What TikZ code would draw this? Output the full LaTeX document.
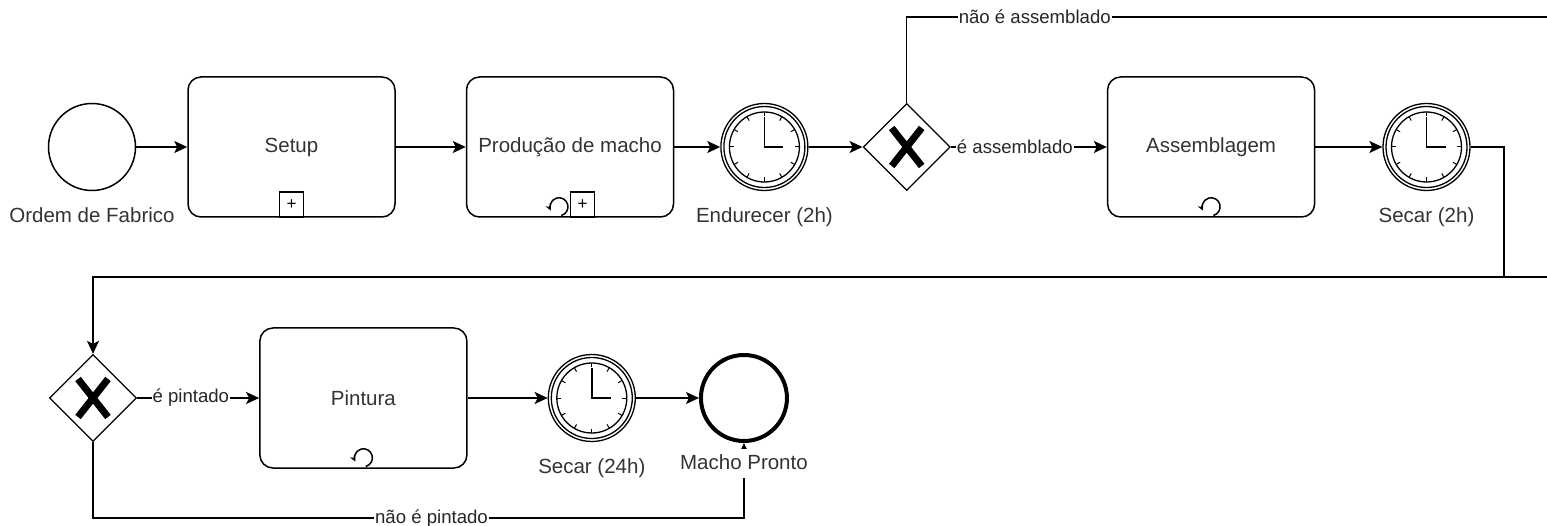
\documentclass[tikz,border=0pt]{standalone}
\usepackage{fontspec}
\setmainfont{Liberation Sans}
\usepackage{tikz}
\usetikzlibrary{shapes,arrows.meta,positioning}
\tikzstyle{Task} = [draw, rectangle, rounded corners=13pt, line width=1.5pt, minimum width=207pt, minimum height=140pt, text=black!80, font=\fontsize{20.5}{24}\selectfont]
\tikzstyle{Start} = [draw, circle, line width=1.5pt, minimum size=87pt, inner sep=0pt]
\tikzstyle{End} = [draw, circle, line width=4pt, minimum size=86pt, inner sep=0pt]
\tikzstyle{Timer} = [draw, circle, line width=1.3pt, minimum size=87pt, inner sep=0pt, path picture={
    \coordinate (clk) at (path picture bounding box.center);
    \draw[line width=1.3pt] (clk) circle (40.5pt);
    \draw[line width=1.3pt] (clk) circle (35pt);
    \foreach \a in {0,30,...,330}
      \draw[line width=1pt] (clk) ++(\a:30.5pt) -- ++(\a:4.5pt);
    \draw[line width=1.6pt] ([yshift=30pt]clk) -- (clk) -- ([xshift=19pt]clk);
  }]
\tikzstyle{Gateway} = [draw, diamond, line width=1.3pt, minimum width=87pt, minimum height=87pt, inner sep=0pt, path picture={
    \coordinate (gx) at (path picture bounding box.center);
    \draw[line width=7pt] ([shift={(-15pt,-19pt)}]gx) -- ([shift={(15pt,19pt)}]gx);
    \draw[line width=7pt] ([shift={(-15pt,19pt)}]gx) -- ([shift={(15pt,-19pt)}]gx);
  }]
\tikzstyle{Marker} = [draw, rectangle, fill=white, line width=1.3pt, minimum width=24pt, minimum height=25pt, inner sep=0pt, font=\fontsize{17}{17}\selectfont]
\tikzstyle{EventText} = [inner sep=0pt, text height=15pt, text depth=4pt, text=black!80, font=\fontsize{20.5}{24}\selectfont]
\tikzstyle{EdgeText} = [fill=white, inner sep=1pt, text=black!85, font=\fontsize{18.6}{22}\selectfont]
\tikzstyle{Flow} = [line width=1.5pt, -{Stealth[length=13pt, width=12pt, inset=3pt]}]
\tikzstyle{Line} = [line width=1.5pt]
\newcommand{\loopmark}[1]{\draw[line width=1.5pt, -{Stealth[length=6pt, width=6pt]}] #1 ++(-75:9pt) arc[start angle=-75, end angle=205, radius=9pt];}

\begin{document}
\begin{tikzpicture}[x=1pt, y=1pt]
    \useasboundingbox (0,0) rectangle (1547,-526);

    \node[Start] (ordem) at (92,-147)            {};
    \node[Task] (setup) [right=51pt of ordem]     {Setup};
    \node[Task] (producao) [right=70pt of setup]  {Produção de macho};
    \node[Timer] (endurecer) [right=46pt of producao] {};
    \node[Gateway] (gw1) [right=54pt of endurecer] {};
    \node[Task] (assembl) [right=156pt of gw1]   {Assemblagem};
    \node[Timer] (secar2) [right=67pt of assembl] {};

    \node[Gateway] (gw2) at (93,-398)            {};
    \node[Task] (pintura) [right=122pt of gw2]   {Pintura};
    \node[Timer] (secar24) [right=80pt of pintura] {};
    \node[End] (pronto) [right=63pt of secar24]  {};

    \node[EventText] (ordemlbl) [below=16pt of ordem]         {Ordem de Fabrico};
    \node[EventText] (endurecerlbl) [below=16pt of endurecer] {Endurecer (2h)};
    \node[EventText] (secar2lbl) [below=16pt of secar2]       {Secar (2h)};
    \node[EventText] (secar24lbl) [below=16pt of secar24]     {Secar (24h)};

    \node[Marker] (setupmk) [above=0pt of setup.south]                  {+};
    \node[Marker] (producaomk) [above right=0pt and 0pt of producao.south] {+};
    \loopmark{([xshift=-11pt, yshift=11pt]producao.south)}
    \loopmark{([yshift=11pt]assembl.south)}
    \loopmark{([yshift=11pt]pintura.south)}

    \coordinate (saida1) at (1547,-17);
    \coordinate (saida2) at (1547,-277);
    \coordinate (desce) at (1504,-277);

    \draw[Flow] (ordem)     to (setup);
    \draw[Flow] (setup)     to (producao);
    \draw[Flow] (producao)  to (endurecer);
    \draw[Flow] (endurecer) to (gw1);
    \draw[Flow] (gw1) -- node[EdgeText, pos=0.41] {é assemblado} (assembl);
    \draw[Line] (gw1) |- node[EdgeText, pos=0.6] {não é assemblado} (saida1);
    \draw[Flow] (assembl)   to (secar2);
    \draw[Flow] (secar2) -| (desce) -| (gw2);
    \draw[Line] (saida2) -- (desce);
    \draw[Flow] (gw2) -- node[EdgeText, pos=0.44] {é pintado} (pintura);
    \draw[Flow] (pintura)   to (secar24);
    \draw[Flow] (secar24)   to (pronto);
    \draw[Flow] (gw2.south) -- ++(0,-76) -| node[EdgeText, pos=0.26] {não é pintado} (pronto);

    \node[EventText, fill=white, inner ysep=5pt] (prontolbl) [below=6pt of pronto] {Macho Pronto};
\end{tikzpicture}
\end{document}
